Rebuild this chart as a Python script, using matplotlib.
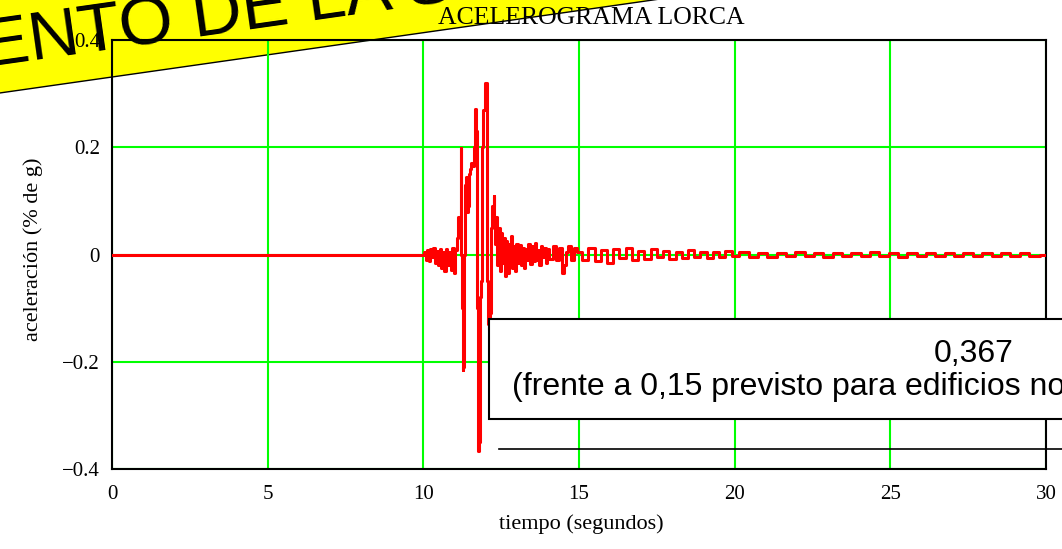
import matplotlib.pyplot as plt
from matplotlib.patches import Polygon, Rectangle
from matplotlib.ticker import FixedLocator, FixedFormatter

# Lorca accelerogram, time in seconds and acceleration in g
t_s = [0.0, 9.95,
       10.0, 10.05, 10.1, 10.15, 10.2, 10.25, 10.3, 10.35, 10.4, 10.45,
       10.5, 10.55, 10.6, 10.65, 10.7, 10.75, 10.8, 10.85, 10.9, 10.95,
       11.0, 11.05, 11.1, 11.15, 11.19, 11.21, 11.23, 11.25, 11.27, 11.3,
       11.33, 11.35, 11.38, 11.41, 11.44, 11.47, 11.52, 11.56, 11.6, 11.64,
       11.68, 11.71, 11.74, 11.77, 11.8, 11.83, 11.87, 11.91, 11.95, 12.02,
       12.06, 12.1, 12.14, 12.17, 12.2, 12.24, 12.27, 12.3, 12.33, 12.36,
       12.4, 12.44, 12.48, 12.52, 12.56, 12.6, 12.64, 12.68, 12.72, 12.76,
       12.8, 12.84, 12.88, 12.92, 12.96, 13.0, 13.05, 13.1, 13.15, 13.2,
       13.25, 13.3, 13.35, 13.4, 13.45, 13.5, 13.55, 13.6, 13.65, 13.7,
       13.75, 13.8, 13.85, 13.9, 13.95, 14.0, 14.1, 14.2, 14.3, 14.4,
       14.5, 14.55, 14.6, 14.7, 14.8, 14.9, 15.0, 15.2, 15.4, 15.6,
       15.8, 16.0, 16.2, 16.4, 16.6, 16.8, 17.0, 17.2, 17.4, 17.6,
       17.8, 18.0, 18.2, 18.4, 18.6, 18.8, 19.0, 19.2, 19.4, 19.6,
       19.8, 20.0, 20.3, 20.6, 20.9, 21.2, 21.5, 21.8, 22.1, 22.4,
       22.7, 23.0, 23.3, 23.6, 23.9, 24.2, 24.5, 24.8, 25.1, 25.4,
       25.7, 26.0, 26.3, 26.6, 26.9, 27.2, 27.5, 27.8, 28.1, 28.4,
       28.7, 29.0, 29.3, 29.6, 30.0]
acc_g = [0.0, 0.0,
         0.0, 0.005, -0.01, 0.008, -0.012, 0.01, -0.005, 0.012, -0.015, 0.006,
         -0.02, 0.01, -0.025, 0.005, -0.03, 0.01, -0.02, 0.005, -0.028, 0.012,
         -0.035, 0.008, 0.03, 0.07, 0.06, 0.198, 0.0, -0.1, -0.215, -0.21,
         0.0, 0.13, 0.145, 0.08, 0.09, 0.15, 0.16, 0.17, 0.165, 0.2,
         0.272, 0.23, -0.1, -0.367, -0.35, -0.08, -0.05, 0.2, 0.27, 0.32,
         -0.05, -0.13, -0.14, -0.11, 0.05, 0.09, 0.11, 0.06, 0.02, 0.07,
         -0.02, 0.05, -0.03, 0.04, -0.015, 0.03, -0.04, 0.025, -0.035, 0.02,
         -0.02, 0.035, -0.025, 0.015, -0.03, 0.02, -0.015, 0.018, -0.02, 0.012,
         -0.025, 0.01, -0.01, 0.02, -0.018, 0.015, -0.012, 0.022, -0.01, 0.008,
         -0.02, 0.015, -0.005, 0.012, -0.015, 0.01, -0.008, 0.015, -0.01, 0.012,
         -0.035, -0.02, 0.005, 0.015, -0.01, 0.012, 0.005, -0.01, 0.012, -0.012,
         0.008, -0.015, 0.01, -0.006, 0.012, -0.01, 0.006, -0.008, 0.01, -0.005,
         0.007, -0.008, 0.004, -0.006, 0.008, -0.004, 0.005, -0.007, 0.004, -0.005,
         0.006, -0.003, 0.004, -0.004, 0.003, -0.005, 0.002, -0.003, 0.004, -0.002,
         0.003, -0.004, 0.002, -0.003, 0.003, -0.002, 0.004, -0.003, 0.002, -0.004,
         0.002, -0.002, 0.003, -0.002, 0.002, -0.003, 0.002, -0.002, 0.003, -0.002,
         0.002, -0.002, 0.002, -0.002, 0.0]

x_ticks = [0, 5, 10, 15, 20, 25, 30]
y_ticks = [-0.4, -0.2, 0, 0.2, 0.4]
y_tick_labels = ['\u22120.4', '\u22120.2', '0', '0.2', '0.4']
peak_label = '0,367'
note_label = '(frente a 0,15 previsto para edificios no'

W, H = 1062, 549
serif = ['Liberation Serif', 'DejaVu Serif']
sans = ['Liberation Sans', 'DejaVu Sans']

fig = plt.figure(figsize=(W / 100, H / 100), dpi=100)
fig.patch.set_facecolor('white')

# pixel-coordinate layer behind the plot (yellow banner)
under = fig.add_axes([0, 0, 1, 1], zorder=0)
under.set_xlim(0, W)
under.set_ylim(H, 0)
under.axis('off')

ax = fig.add_axes([112 / W, (H - 469) / H, 934 / W, 429 / H], zorder=1)
ax.patch.set_visible(False)

# pixel-coordinate layer in front of the plot (labels, note box)
over = fig.add_axes([0, 0, 1, 1], zorder=2)
over.set_xlim(0, W)
over.set_ylim(H, 0)
over.axis('off')

# banner
under.add_patch(Polygon([(-20, 95.8), (700, -6.7), (700, -200), (-20, -200)],
                        closed=True, facecolor='#ffff00', edgecolor='black', lw=1.0))
under.text(-14, 68, 'ENTO DE LA S', fontsize=50, family=sans, color='black',
           rotation=8.1, rotation_mode='anchor', ha='left', va='baseline')

# accelerogram
ax.plot(t_s, acc_g, color='#ff0000', lw=2.2, drawstyle='steps-mid', zorder=3)

ax.set_xlim(0, 30)
ax.set_ylim(-0.4, 0.4)
ax.xaxis.set_major_locator(FixedLocator(x_ticks))
ax.yaxis.set_major_locator(FixedLocator(y_ticks))
ax.yaxis.set_major_formatter(FixedFormatter(y_tick_labels))
ax.grid(True, color='#00ff00', lw=1.5)
ax.tick_params(axis='both', length=0, labelsize=15)
ax.tick_params(axis='x', pad=11.5)
ax.tick_params(axis='y', pad=8.6)
for lab in ax.get_xticklabels() + ax.get_yticklabels():
    lab.set_family(serif)
for sp in ax.spines.values():
    sp.set_color('black')
    sp.set_linewidth(1.5)

# titles
over.text(591, 18, 'ACELEROGRAMA LORCA', fontsize=18.5, family=serif,
          ha='center', va='center')
over.text(33, 249, 'aceleración (% de g)', fontsize=16, family=serif,
          rotation=90, ha='center', va='center')
over.text(581, 524, 'tiempo (segundos)', fontsize=16, family=serif,
          ha='center', va='center')

# note box with the recorded peak
over.add_patch(Rectangle((489, 319), 700, 100, facecolor='white',
                         edgecolor='black', lw=1.5))
over.text(974, 362, peak_label, fontsize=23, family=sans, ha='center', va='baseline')
over.text(512, 395, note_label, fontsize=23, family=sans, ha='left', va='baseline')
over.plot([499, 1100], [449, 449], color='black', lw=1.2)

fig.savefig('out.png', dpi=100)
